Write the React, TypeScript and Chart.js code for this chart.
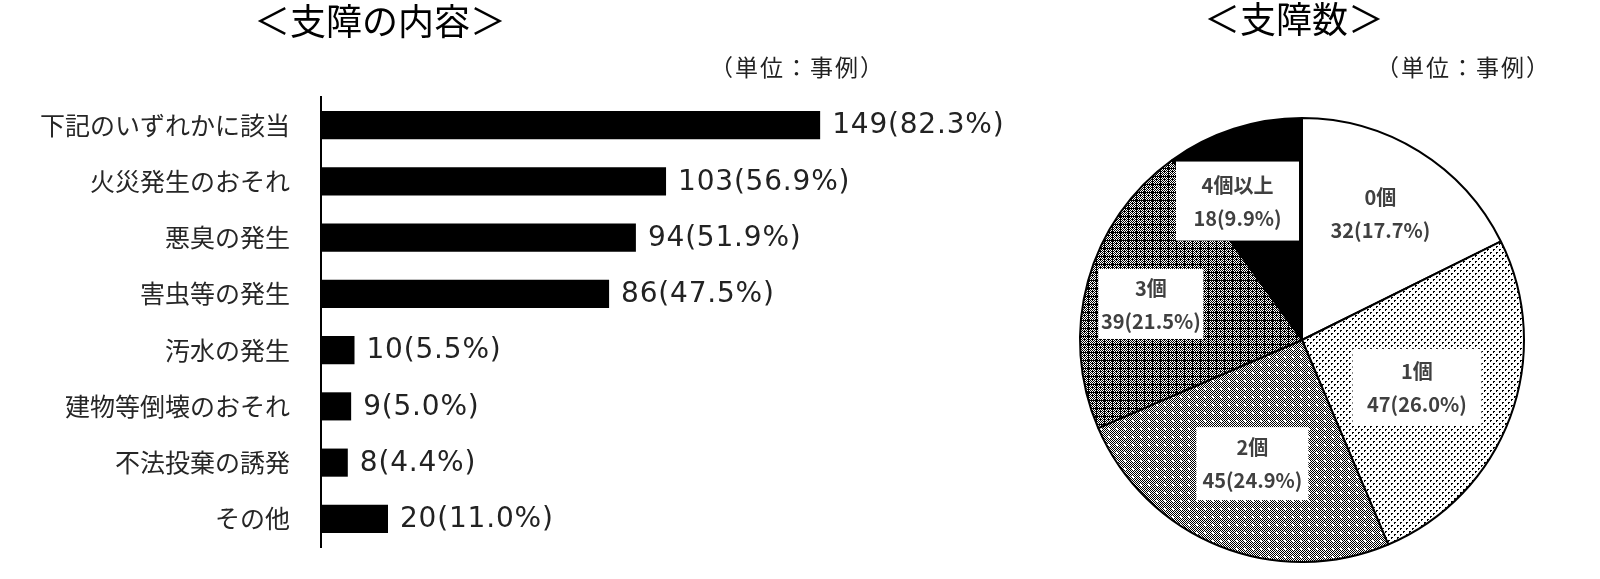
import React, { useEffect, useRef } from 'react';
import { Chart, registerables } from 'chart.js';

Chart.register(...registerables);

// ---- data ----
const barCategories = [
  '下記のいずれかに該当',
  '火災発生のおそれ',
  '悪臭の発生',
  '害虫等の発生',
  '汚水の発生',
  '建物等倒壊のおそれ',
  '不法投棄の誘発',
  'その他',
];
const barCounts = [149, 103, 94, 86, 10, 9, 8, 20];
const barPercents = [82.3, 56.9, 51.9, 47.5, 5.5, 5.0, 4.4, 11.0];

const pieCategories = ['0個', '1個', '2個', '3個', '4個以上'];
const pieCounts = [32, 47, 45, 39, 18];
const piePercents = [17.7, 26.0, 24.9, 21.5, 9.9];

const barTitle = '＜支障の内容＞';
const pieTitle = '＜支障数＞';
const unitLabel = '（単位：事例）';
const xAxisMax = 200;

// ---- styles (label placement inside the pie) ----
const pieLabelRadius = [0.67, 0.56, 0.6, 0.7, 0.69];
const pieLabelAngleShift = [0, 2, 0, -2, -7];
const pieBoxWidth = [0, 129, 112, 105, 123];
const pieBoxHeight = [0, 77, 73, 70, 79];

function makePattern(size: number, draw: (g: CanvasRenderingContext2D) => void) {
  const c = document.createElement('canvas');
  c.width = size;
  c.height = size;
  const g = c.getContext('2d') as CanvasRenderingContext2D;
  g.fillStyle = '#fff';
  g.fillRect(0, 0, size, size);
  g.fillStyle = '#000';
  draw(g);
  return g.createPattern(c, 'repeat') as CanvasPattern;
}

function piePatterns() {
  const light = makePattern(6, (g) => {
    g.fillRect(0, 0, 2, 1);
    g.fillRect(0, 1, 1, 1);
    g.fillRect(3, 3, 2, 1);
    g.fillRect(3, 4, 1, 1);
  });
  const mid = makePattern(8, (g) => {
    for (let y = 0; y < 8; y++)
      for (let x = 0; x < 8; x++) if ((x + y) % 2 === 0) g.fillRect(x, y, 1, 1);
    g.fillStyle = '#fff';
    g.fillRect(4, 4, 2, 2);
  });
  const dark = makePattern(8, (g) => {
    for (let y = 0; y < 8; y++)
      for (let x = 0; x < 8; x++) if ((x + y) % 2 === 0) g.fillRect(x, y, 1, 1);
    g.fillRect(0, 0, 8, 1);
    g.fillRect(0, 0, 1, 8);
    g.fillRect(4, 3, 1, 1);
  });
  return ['#ffffff', light, mid, dark, '#000000'];
}

const barValueLabels = {
  id: 'barValueLabels',
  afterDatasetsDraw(chart: any) {
    const ctx = chart.ctx as any;
    const meta = chart.getDatasetMeta(0);
    ctx.save();
    ctx.font = '28px "DejaVu Sans"';
    ctx.letterSpacing = '0.8px';
    ctx.fillStyle = '#222';
    ctx.textAlign = 'left';
    ctx.textBaseline = 'middle';
    meta.data.forEach((bar: any, i: number) => {
      ctx.fillText(`${barCounts[i]}(${barPercents[i].toFixed(1)}%)`, bar.x + 12, bar.y + 1);
    });
    ctx.restore();
  },
};

const pieValueLabels = {
  id: 'pieValueLabels',
  afterDatasetsDraw(chart: any) {
    const ctx = chart.ctx as CanvasRenderingContext2D;
    const meta = chart.getDatasetMeta(0);
    ctx.save();
    ctx.font = 'bold 20px "Noto Sans CJK JP"';
    meta.data.forEach((arc: any, i: number) => {
      const p = arc.getProps(['x', 'y', 'startAngle', 'endAngle', 'outerRadius'], true);
      const mid = (p.startAngle + p.endAngle) / 2 + (pieLabelAngleShift[i] * Math.PI) / 180;
      const r = p.outerRadius * pieLabelRadius[i];
      const cx = p.x + Math.cos(mid) * r;
      const cy = p.y + Math.sin(mid) * r;
      const l1 = pieCategories[i];
      const l2 = `${pieCounts[i]}(${piePercents[i].toFixed(1)}%)`;
      const w = pieBoxWidth[i];
      const h = pieBoxHeight[i];
      if (w > 0) {
        ctx.fillStyle = '#fff';
        ctx.fillRect(cx - w / 2, cy - h / 2, w, h);
      }
      ctx.fillStyle = '#404040';
      ctx.textAlign = 'center';
      ctx.textBaseline = 'middle';
      ctx.fillText(l1, cx, cy - 16);
      ctx.fillText(l2, cx, cy + 17);
    });
    ctx.restore();
  },
};

export default function App() {
  const barRef = useRef<HTMLCanvasElement>(null);
  const pieRef = useRef<HTMLCanvasElement>(null);

  useEffect(() => {
    const barChart = new Chart(barRef.current as HTMLCanvasElement, {
      type: 'bar',
      data: {
        labels: barCategories,
        datasets: [
          {
            data: barCounts,
            backgroundColor: '#000',
            borderWidth: 0,
            barPercentage: 0.5,
            categoryPercentage: 1,
          },
        ],
      },
      options: {
        indexAxis: 'y',
        responsive: false,
        maintainAspectRatio: false,
        animation: false,
        layout: { padding: { left: 0, right: 49, top: 97, bottom: 32 } },
        plugins: {
          legend: { display: false },
          tooltip: { enabled: false },
          title: { display: false },
        },
        scales: {
          x: { display: false, min: 0, max: xAxisMax },
          y: {
            grid: { display: false, drawTicks: false },
            border: { display: true, color: '#000', width: 2 },
            ticks: {
              font: { family: '"Noto Sans CJK JP"', size: 25 },
              color: '#262626',
              padding: 31,
              autoSkip: false,
            },
            afterFit: (s: any) => {
              s.width = 321;
              s.paddingTop = 0;
              s.paddingBottom = 0;
            },
          },
        },
      } as any,
      plugins: [barValueLabels],
    });

    const pieChart = new Chart(pieRef.current as HTMLCanvasElement, {
      type: 'pie',
      data: {
        labels: pieCategories,
        datasets: [
          {
            data: pieCounts,
            backgroundColor: piePatterns() as any,
            borderColor: '#000',
            borderWidth: 2,
          },
        ],
      },
      options: {
        responsive: false,
        maintainAspectRatio: false,
        animation: false,
        radius: 222,
        layout: { padding: { left: 32, right: 68, top: 110, bottom: 9 } },
        plugins: {
          legend: { display: false },
          tooltip: { enabled: false },
        },
      } as any,
      plugins: [pieValueLabels],
    });

    return () => {
      barChart.destroy();
      pieChart.destroy();
    };
  }, []);

  const titleStyle: React.CSSProperties = {
    position: 'absolute',
    fontFamily: '"Noto Sans CJK JP"',
    fontSize: 36,
    lineHeight: '36px',
    color: '#000',
    textAlign: 'center',
    whiteSpace: 'nowrap',
  };
  const unitStyle: React.CSSProperties = {
    position: 'absolute',
    fontFamily: '"Noto Sans CJK JP"',
    fontSize: 23,
    lineHeight: '23px',
    letterSpacing: '2px',
    color: '#222',
    whiteSpace: 'nowrap',
  };

  return (
    <div
      style={{
        position: 'fixed',
        left: 0,
        top: 0,
        width: 1600,
        height: 579,
        background: '#fff',
        overflow: 'hidden',
      }}
    >
      <canvas
        ref={barRef}
        width={1040}
        height={579}
        style={{ position: 'absolute', left: 0, top: 0, width: 1040, height: 579 }}
      />
      <canvas
        ref={pieRef}
        width={560}
        height={579}
        style={{ position: 'absolute', left: 1040, top: 0, width: 560, height: 579 }}
      />
      <div style={{ ...titleStyle, left: 0, width: 760, top: 1 }}>{barTitle}</div>
      <div style={{ ...titleStyle, left: 1094, width: 400, top: -1 }}>{pieTitle}</div>
      <div style={{ ...unitStyle, left: 710, top: 55 }}>{unitLabel}</div>
      <div style={{ ...unitStyle, left: 1376, top: 55 }}>{unitLabel}</div>
    </div>
  );
}
